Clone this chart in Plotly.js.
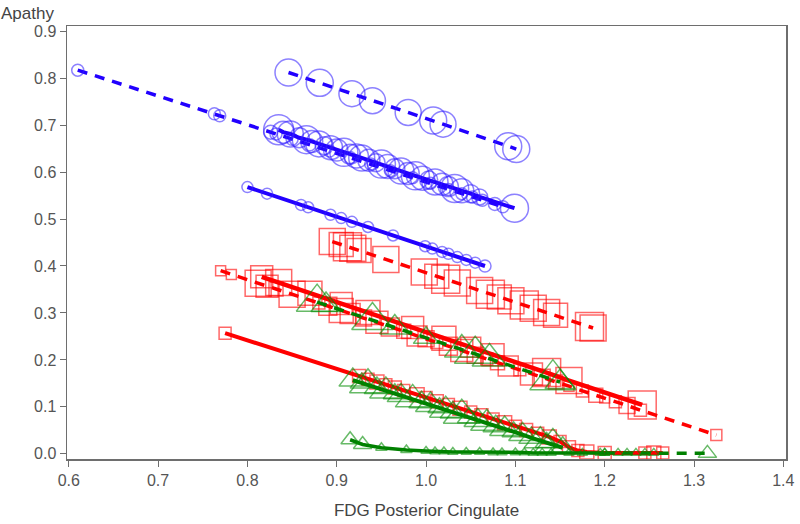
<!DOCTYPE html>
<html>
<head>
<meta charset="utf-8">
<script src="https://cdn.plot.ly/plotly-3.0.1.min.js"></script>
<style>
  body { margin: 0; background: #fff; }
  #apathyfig { width: 800px; height: 524px; }
</style>
</head>
<body>
<div id="apathyfig"></div>
<script>
// blue, dashed, large circles (top)
var blueTopX = [0.846, 0.881, 0.917, 0.940, 0.980, 1.008, 1.019, 1.092, 1.101];
var blueTopY = [0.812, 0.790, 0.767, 0.752, 0.727, 0.710, 0.702, 0.655, 0.649];
var blueTopS = [27, 27, 26, 26, 26, 27, 26, 27, 27];

// blue, dashed, small circles (long line)
var blueLongX = [0.610, 0.763, 0.769, 0.826, 0.832, 0.850, 0.870, 0.892, 0.915, 0.938, 0.960, 0.985, 1.005, 1.025, 1.040, 1.052, 1.063, 1.077, 1.086];
var blueLongY = [0.817, 0.724, 0.720, 0.685, 0.681, 0.670, 0.658, 0.645, 0.631, 0.617, 0.603, 0.588, 0.576, 0.563, 0.554, 0.547, 0.540, 0.532, 0.526];
var blueLongS = [12, 12, 12, 14, 12, 12, 12, 12, 12, 12, 12, 12, 12, 12, 12, 12, 12, 13, 12];

// blue, solid, large circles
var blueBigX = [0.835, 0.840, 0.848, 0.858, 0.866, 0.872, 0.880, 0.886, 0.893, 0.900, 0.908, 0.915, 0.922, 0.928, 0.936, 0.944, 0.950, 0.957, 0.965, 0.972, 0.980, 0.988, 0.996, 1.003, 1.010, 1.018, 1.025, 1.032, 1.040, 1.050, 1.060, 1.099];
var blueBigY = [0.690, 0.685, 0.681, 0.673, 0.669, 0.665, 0.660, 0.656, 0.652, 0.647, 0.642, 0.638, 0.634, 0.630, 0.625, 0.620, 0.617, 0.612, 0.607, 0.602, 0.597, 0.592, 0.587, 0.583, 0.579, 0.574, 0.569, 0.565, 0.560, 0.554, 0.547, 0.523];
var blueBigS = [30, 22, 26, 20, 28, 22, 26, 18, 24, 22, 28, 20, 24, 26, 22, 18, 28, 24, 20, 26, 22, 28, 24, 18, 26, 22, 20, 28, 24, 18, 16, 28];

// blue, solid, small circles (lower)
var blueLowX = [0.800, 0.822, 0.860, 0.868, 0.893, 0.905, 0.917, 0.935, 0.963, 0.999, 1.007, 1.018, 1.025, 1.035, 1.045, 1.055, 1.066];
var blueLowY = [0.568, 0.554, 0.530, 0.525, 0.509, 0.502, 0.494, 0.483, 0.465, 0.442, 0.437, 0.430, 0.426, 0.419, 0.413, 0.407, 0.400];
var blueLowS = [11, 11, 11, 11, 11, 11, 11, 11, 11, 11, 11, 11, 11, 11, 11, 11, 12];

// red, dashed, large squares (top)
var redTopX = [0.895, 0.905, 0.912, 0.918, 0.925, 0.955, 0.998, 1.012, 1.022, 1.035, 1.060, 1.072, 1.082, 1.095, 1.110, 1.120, 1.135, 1.145, 1.183, 1.187];
var redTopY = [0.452, 0.446, 0.441, 0.438, 0.433, 0.414, 0.387, 0.378, 0.372, 0.364, 0.348, 0.340, 0.334, 0.326, 0.317, 0.310, 0.301, 0.295, 0.271, 0.268];
var redTopS = [26, 24, 28, 26, 24, 26, 26, 24, 28, 26, 26, 28, 24, 26, 28, 26, 26, 24, 28, 26];

// red, dashed, squares (middle, long)
var redDashX = [0.770, 0.782, 0.812, 0.822, 0.832, 0.850, 0.880, 0.890, 0.905, 0.915, 0.930, 0.945, 0.960, 0.975, 0.990, 1.000, 1.012, 1.025, 1.040, 1.055, 1.068, 1.080, 1.092, 1.105, 1.118, 1.130, 1.145, 1.160, 1.175, 1.190, 1.200, 1.212, 1.225, 1.240, 1.325];
var redDashY = [0.390, 0.382, 0.363, 0.357, 0.351, 0.340, 0.321, 0.314, 0.305, 0.299, 0.289, 0.280, 0.270, 0.261, 0.251, 0.245, 0.237, 0.229, 0.220, 0.210, 0.202, 0.194, 0.187, 0.179, 0.170, 0.163, 0.153, 0.144, 0.134, 0.125, 0.119, 0.111, 0.103, 0.093, 0.040];
var redDashS = [10, 10, 26, 22, 14, 26, 12, 18, 24, 20, 16, 22, 18, 14, 20, 16, 12, 18, 22, 16, 12, 14, 20, 12, 22, 16, 14, 10, 12, 14, 10, 12, 16, 12, 11];

// red, solid, large squares (middle)
var redMidX = [0.816, 0.835, 0.870, 0.905, 0.935, 0.985, 1.020, 1.050, 1.075, 1.135, 1.160, 1.242];
var redMidY = [0.377, 0.365, 0.342, 0.320, 0.301, 0.269, 0.246, 0.227, 0.211, 0.173, 0.156, 0.104];
var redMidS = [22, 26, 24, 22, 24, 22, 24, 20, 22, 28, 26, 28];

// red, solid, squares (lower)
var redLowX = [0.775, 0.925, 0.935, 0.945, 0.955, 0.965, 0.975, 0.990, 1.000, 1.012, 1.025, 1.038, 1.050, 1.062, 1.075, 1.088, 1.100, 1.112, 1.125, 1.138, 1.150, 1.160, 1.170, 1.180, 1.200, 1.245, 1.255, 1.265];
var redLowY = [0.257, 0.166, 0.159, 0.153, 0.147, 0.141, 0.135, 0.126, 0.120, 0.112, 0.105, 0.097, 0.089, 0.082, 0.074, 0.066, 0.059, 0.051, 0.044, 0.036, 0.026, 0.014, 0.007, 0.004, 0.002, 0.002, 0.002, 0.002];
var redLowS = [12, 13, 12, 14, 12, 13, 12, 14, 12, 13, 12, 14, 12, 13, 12, 14, 12, 13, 12, 14, 12, 13, 12, 14, 13, 12, 14, 12];

// green, dashed, triangles (middle)
var greenMidX = [0.878, 0.888, 0.940, 0.965, 1.000, 1.040, 1.055, 1.071, 1.142, 1.150];
var greenMidY = [0.323, 0.317, 0.284, 0.269, 0.247, 0.222, 0.212, 0.203, 0.158, 0.153];
var greenMidS = [36, 26, 36, 26, 22, 30, 36, 30, 40, 26];

// green, solid, triangles (lower)
var greenLowX = [0.918, 0.928, 0.935, 0.945, 0.955, 0.965, 0.972, 0.985, 0.995, 1.005, 1.015, 1.022, 1.030, 1.040, 1.048, 1.058, 1.068, 1.078, 1.088, 1.098, 1.108, 1.118, 1.128, 1.135, 1.142, 1.153];
var greenLowY = [0.157, 0.151, 0.147, 0.140, 0.134, 0.128, 0.124, 0.116, 0.110, 0.104, 0.098, 0.093, 0.088, 0.082, 0.077, 0.071, 0.065, 0.059, 0.053, 0.047, 0.041, 0.034, 0.028, 0.024, 0.020, 0.013];
var greenLowS = [24, 20, 32, 22, 28, 20, 24, 30, 22, 26, 20, 28, 22, 32, 20, 24, 28, 22, 26, 20, 24, 22, 28, 20, 32, 22];

// green, near zero: solid part then dashed tail
var greenZeroX = [0.915, 0.929, 0.950, 0.978, 1.000, 1.010, 1.020, 1.030, 1.045, 1.060, 1.075, 1.085, 1.100, 1.110, 1.120, 1.130, 1.140, 1.160, 1.175, 1.195, 1.200];
var greenZeroY = [0.030, 0.020, 0.013, 0.008, 0.006, 0.005, 0.005, 0.004, 0.004, 0.004, 0.003, 0.003, 0.003, 0.003, 0.002, 0.002, 0.002, 0.002, 0.002, 0.002, 0.002];
var greenZeroS = [16, 16, 10, 10, 9, 9, 9, 9, 9, 9, 9, 9, 9, 9, 9, 9, 9, 9, 9, 9, 9];
var greenTailX = [1.200, 1.215, 1.225, 1.235, 1.245, 1.255, 1.315];
var greenTailY = [0.002, 0.002, 0.002, 0.002, 0.002, 0.002, 0.001];
var greenTailS = [9, 9, 9, 9, 9, 9, 16];

var BLUE = '#2200ff', BLUE_M = 'rgba(50,30,255,0.8)';
var RED = '#ff0000', RED_M = 'rgba(255,0,0,0.85)';
var GREEN = '#008000', GREEN_M = 'rgba(0,140,0,0.85)';
var DASH = '10px,8px';

function grp(x, y, s, sym, mcol, lcol, dash, lw) {
  return {
    x: x, y: y, mode: 'lines+markers', type: 'scatter', hoverinfo: 'skip',
    line: { color: lcol, width: lw, dash: dash },
    marker: { symbol: sym, size: s, color: mcol, line: { color: mcol, width: 1.5 } }
  };
}

var data = [
  grp(blueLongX, blueLongY, blueLongS, 'circle-open', BLUE_M, BLUE, DASH, 3.5),
  grp(blueTopX, blueTopY, blueTopS, 'circle-open', BLUE_M, BLUE, DASH, 3.5),
  grp(blueBigX, blueBigY, blueBigS, 'circle-open', BLUE_M, BLUE, 'solid', 4),
  grp(blueLowX, blueLowY, blueLowS, 'circle-open', BLUE_M, BLUE, 'solid', 4),
  grp(redTopX, redTopY, redTopS, 'square-open', RED_M, RED, DASH, 3.5),
  grp(redDashX, redDashY, redDashS, 'square-open', RED_M, RED, DASH, 3.5),
  grp(redMidX, redMidY, redMidS, 'square-open', RED_M, RED, 'solid', 4.5),
  grp(redLowX, redLowY, redLowS, 'square-open', RED_M, RED, 'solid', 4),
  grp(greenMidX, greenMidY, greenMidS, 'triangle-up-open', GREEN_M, GREEN, DASH, 3.5),
  grp(greenLowX, greenLowY, greenLowS, 'triangle-up-open', GREEN_M, GREEN, 'solid', 4),
  grp(greenZeroX, greenZeroY, greenZeroS, 'triangle-up-open', GREEN_M, GREEN, 'solid', 3.5),
  grp(greenTailX, greenTailY, greenTailS, 'triangle-up-open', GREEN_M, GREEN, DASH, 3.5)
];

var axfont = { family: 'Liberation Sans, Arial, sans-serif', size: 16, color: '#555' };

var layout = {
  width: 800, height: 524,
  margin: { l: 67, r: 14, t: 26, b: 65 },
  showlegend: false,
  paper_bgcolor: '#fff', plot_bgcolor: '#fff',
  font: axfont,
  xaxis: {
    range: [0.598, 1.403], dtick: 0.1, tick0: 0.6, tickformat: '.1f',
    showgrid: false, zeroline: false,
    showline: true, mirror: true, linecolor: '#6e6e6e', linewidth: 1.5,
    ticks: 'outside', ticklen: 6, tickcolor: '#6e6e6e', tickwidth: 1,
    tickfont: axfont,
    title: { text: 'FDG Posterior Cingulate', font: { family: 'Liberation Sans, Arial, sans-serif', size: 17, color: '#444' }, standoff: 16 }
  },
  yaxis: {
    range: [-0.011, 0.911], dtick: 0.1, tick0: 0, tickformat: '.1f',
    showgrid: false, zeroline: false,
    showline: true, mirror: true, linecolor: '#6e6e6e', linewidth: 1.5,
    ticks: 'outside', ticklen: 6, tickcolor: '#6e6e6e', tickwidth: 1,
    tickfont: axfont
  },
  annotations: [{
    xref: 'paper', yref: 'paper', x: -0.095, y: 1.03,
    xanchor: 'left', yanchor: 'middle', showarrow: false,
    text: 'Apathy', font: { family: 'Liberation Sans, Arial, sans-serif', size: 17, color: '#444' }
  }]
};

Plotly.newPlot('apathyfig', data, layout, { displayModeBar: false, staticPlot: true });
</script>
</body>
</html>
